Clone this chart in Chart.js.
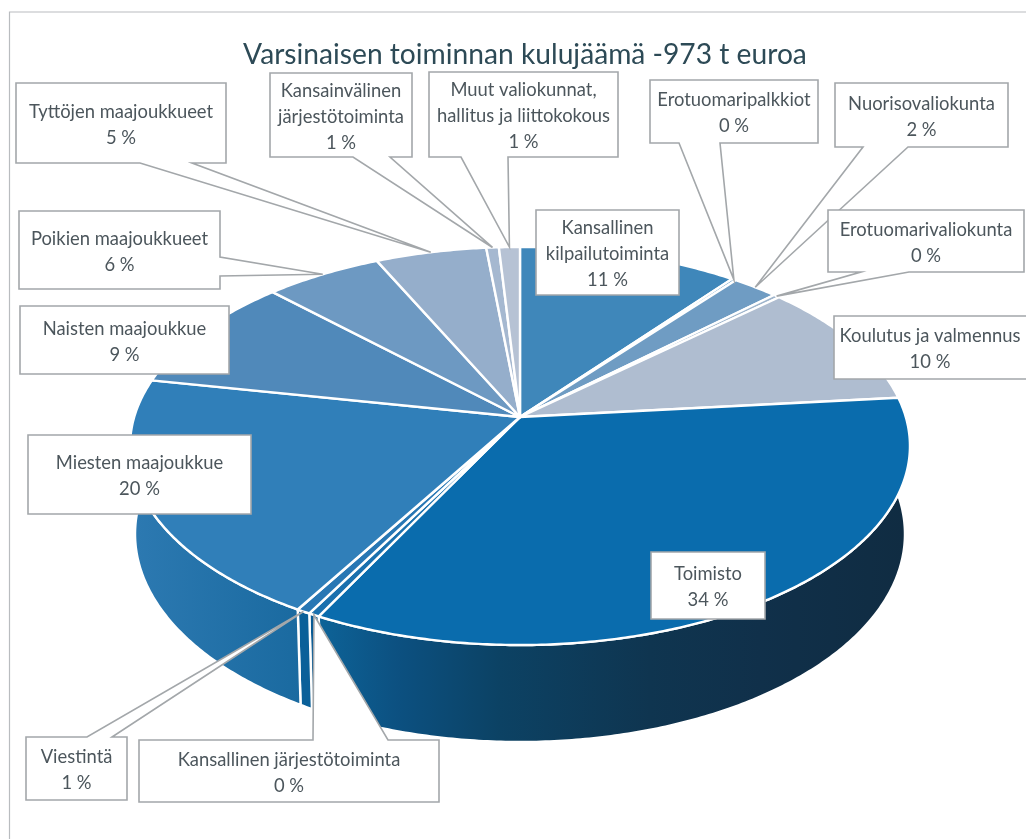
<!DOCTYPE html>
<html lang="fi">
<head>
<meta charset="utf-8">
<title>Varsinaisen toiminnan kulujäämä</title>
<script src="https://cdn.jsdelivr.net/npm/chart.js@4"></script>
<style>
html,body{margin:0;padding:0;background:#fff;overflow:hidden}
canvas{display:block}
</style>
</head>
<body>
<canvas id="c" width="1026" height="839"></canvas>
<script>
// ---- data (clockwise from 12 o'clock) ----
const titleText = 'Varsinaisen toiminnan kulujäämä -973 t euroa';
const categories = [
  ['Kansallinen','kilpailutoiminta'],
  ['Erotuomaripalkkiot'],
  ['Nuorisovaliokunta'],
  ['Erotuomarivaliokunta'],
  ['Koulutus ja valmennus'],
  ['Toimisto'],
  ['Kansallinen järjestötoiminta'],
  ['Viestintä'],
  ['Miesten maajoukkue'],
  ['Naisten maajoukkue'],
  ['Poikien maajoukkueet'],
  ['Tyttöjen maajoukkueet'],
  ['Kansainvälinen','järjestötoiminta'],
  ['Muut valiokunnat,','hallitus ja liittokokous']
];
const values = [10.5,0.2,2.2,0.3,10.2,34.1,0.4,0.5,19.7,9.4,5.6,5.3,0.6,1.0];
const percentLabels = ['11 %','0 %','2 %','0 %','10 %','34 %','0 %','1 %','20 %','9 %','6 %','5 %','1 %','1 %'];

// ---- styles ----
const topColors = ['#3f87ba','#5a93bf','#6f9cc3','#9fb5cc','#afbdd0','#0a6cad','#1a70ae','#2877b4',
                   '#307fb9','#5089ba','#6d99c2','#95aecb','#a5b8d0','#b6c2d4'];
// side-wall gradient stops: [x, colour]
const wallStops = {
  5:[[318,'#0d6398'],[400,'#0c5080'],[500,'#0c4264'],[650,'#0f3550'],[760,'#10304a'],[905,'#102c42']],
  6:[[300,'#0a5b94'],[320,'#0a5b94']],
  7:[[290,'#0a6099'],[310,'#0a6099']],
  8:[[135,'#2c79b1'],[300,'#1a6aa0']]
};

// ---- callout boxes: [left, top, right, bottom, tail side, tail start, tail end] ----
const boxes = [
  [536,210,679,295],
  [650,80,818,143,'b',679,720],
  [835,83,1008,147,'b',863,908],
  [828,210,1024,272,'b',861,909],
  [834,316,1032,379],
  [651,552,765,619],
  [139,740,439,802,'t',313,388],
  [26,737,127,800,'t',87,112],
  [28,435,251,514],
  [20,306,229,374],
  [19,211,220,289,'r',257,276],
  [16,83,226,163,'b',140,192],
  [270,73,412,157,'b',353,390],
  [429,72,618,157,'b',461,508]
];

// ---- 3D pie view ----
const view = {cx:520, cy:417, a:385.8, b:194.8, k:0.1457,
              rimY:446, baseY:534, xScale:385/390, yScale:208/199};
function rim(theta){
  const u = Math.sin(theta), v = -Math.cos(theta), d = 1 - view.k*v;
  return {x: view.cx + view.a*u/d, y: view.cy + view.b*v/d};
}
function base(theta){
  const p = rim(theta);
  return {x: view.cx + (p.x-view.cx)*view.xScale, y: view.baseY + (p.y-view.rimY)*view.yScale};
}
function arcPoints(fn, t0, t1){
  const n = Math.max(2, Math.ceil((t1-t0)/0.01)), pts = [];
  for(let i=0;i<=n;i++) pts.push(fn(t0+(t1-t0)*i/n));
  return pts;
}
function tracePoly(ctx, pts){
  ctx.beginPath();
  pts.forEach((p,i)=> i ? ctx.lineTo(p.x,p.y) : ctx.moveTo(p.x,p.y));
  ctx.closePath();
}

const pie3d = {
  id:'pie3d',
  afterLayout(chart){ chart.titleBlock.left = 24; chart.titleBlock.right = 1026; },
  beforeDatasetDraw(){ return false; },
  afterDraw(chart){
    const ctx = chart.ctx, meta = chart.getDatasetMeta(0);
    const th = meta.data.map(el => [el.startAngle + Math.PI/2, el.endAngle + Math.PI/2]);
    ctx.save();
    // scan frame
    ctx.strokeStyle = '#b9bcbf'; ctx.lineWidth = 1.2;
    ctx.beginPath(); ctx.moveTo(9.5,839); ctx.lineTo(9.5,12); ctx.lineTo(1026,12); ctx.stroke();
    ctx.lineJoin = 'round';
    // side wall
    th.forEach(([s,e],i)=>{
      const stops = wallStops[i]; if(!stops) return;
      const pts = arcPoints(rim,s,e).concat(arcPoints(base,s,e).reverse());
      const x0 = stops[0][0], x1 = stops[stops.length-1][0];
      const g = ctx.createLinearGradient(x0,0,x1,0);
      stops.forEach(([x,c])=> g.addColorStop((x-x0)/(x1-x0), c));
      tracePoly(ctx,pts); ctx.fillStyle = g; ctx.fill();
      ctx.strokeStyle = '#fff'; ctx.lineWidth = 2.4; ctx.stroke();
    });
    // top face
    th.forEach(([s,e],i)=>{
      const pts = [{x:view.cx,y:view.cy}].concat(arcPoints(rim,s,e));
      tracePoly(ctx,pts); ctx.fillStyle = meta.data[i].options.backgroundColor; ctx.fill();
      ctx.strokeStyle = '#fff'; ctx.lineWidth = 2.4; ctx.stroke();
    });
    // callouts
    boxes.forEach((bx,i)=>{
      const [l,t,r,b,side,p,q] = bx;
      const tip = rim((th[i][0]+th[i][1])/2);
      ctx.beginPath(); ctx.moveTo(l,t);
      if(side==='t'){ ctx.lineTo(p,t); ctx.lineTo(tip.x,tip.y); ctx.lineTo(q,t); }
      ctx.lineTo(r,t);
      if(side==='r'){ ctx.lineTo(r,p); ctx.lineTo(tip.x,tip.y); ctx.lineTo(r,q); }
      ctx.lineTo(r,b);
      if(side==='b'){ ctx.lineTo(q,b); ctx.lineTo(tip.x,tip.y); ctx.lineTo(p,b); }
      ctx.lineTo(l,b); ctx.closePath();
      ctx.fillStyle = '#fff'; ctx.fill();
      ctx.strokeStyle = '#a3a7aa'; ctx.lineWidth = 1.6; ctx.lineJoin='miter'; ctx.stroke();
      const lines = categories[i].concat(percentLabels[i]);
      ctx.fillStyle = '#4c565c';
      ctx.font = '18.4px Lato';
      ctx.textAlign = 'center'; ctx.textBaseline = 'middle';
      const cx = (l+Math.min(r,1026))/2, cy = (t+b)/2 + 2, lh = 26;
      lines.forEach((s,j)=> ctx.fillText(s, cx, cy + (j-(lines.length-1)/2)*lh));
    });
    ctx.restore();
  }
};

new Chart(document.getElementById('c'), {
  type:'pie',
  data:{labels:categories, datasets:[{data:values, backgroundColor:topColors, borderColor:'#fff', borderWidth:2}]},
  options:{
    responsive:false, animation:false,
    plugins:{
      legend:{display:false}, tooltip:{enabled:false},
      title:{display:true, text:titleText, color:'#2d4a56', font:{family:'Lato', size:28.2, weight:'normal'}, padding:{top:38,bottom:0}}
    }
  },
  plugins:[pie3d]
});
</script>
</body>
</html>
